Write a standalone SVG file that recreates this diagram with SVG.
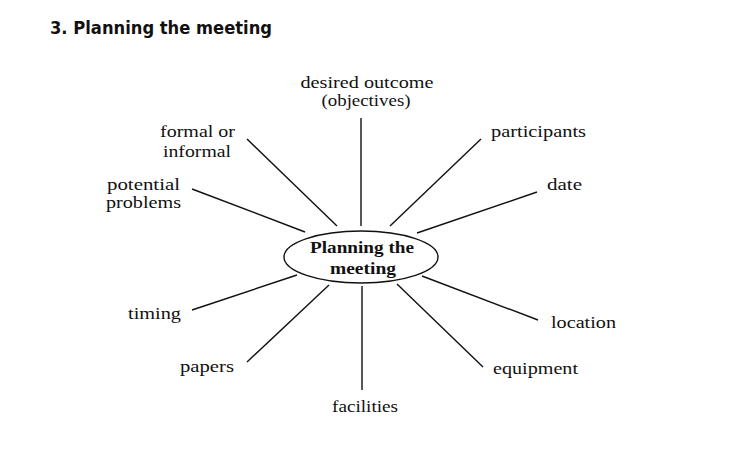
<svg xmlns="http://www.w3.org/2000/svg" width="745" height="474" viewBox="0 0 745 474">
<style>
.t{font-family:"Liberation Serif","Times New Roman",serif;font-size:17px;fill:#111}
.c{font-family:"Liberation Serif","Times New Roman",serif;font-size:17.5px;font-weight:bold;fill:#111}
.h{font-family:"DejaVu Sans","Liberation Sans",sans-serif;font-size:18px;font-weight:bold;fill:#111}
.l{stroke:#111;stroke-width:1.4;fill:none}
</style>
<rect width="745" height="474" fill="#fff"/>
<text class="h" x="50" y="34" textLength="222" lengthAdjust="spacingAndGlyphs">3. Planning the meeting</text>
<g id="connectors">
<line class="l" x1="361" y1="118" x2="361" y2="226"/>
<line class="l" x1="247" y1="139" x2="337" y2="226"/>
<line class="l" x1="192" y1="189" x2="305" y2="232"/>
<line class="l" x1="481" y1="139" x2="390" y2="226"/>
<line class="l" x1="537" y1="192" x2="417" y2="233"/>
<line class="l" x1="192" y1="310" x2="297" y2="275"/>
<line class="l" x1="247" y1="362" x2="329" y2="285"/>
<line class="l" x1="362" y1="286" x2="362" y2="390"/>
<line class="l" x1="538" y1="320" x2="422" y2="276"/>
<line class="l" x1="483" y1="367" x2="397" y2="284"/>
</g>
<g id="center">
<ellipse class="l" cx="361" cy="257" rx="77" ry="26" fill="#fff"/>
<text class="c" x="362" y="253" text-anchor="middle" textLength="104" lengthAdjust="spacingAndGlyphs">Planning the</text>
<text class="c" x="363" y="274" text-anchor="middle" textLength="66" lengthAdjust="spacingAndGlyphs">meeting</text>
</g>
<g id="desired-outcome">
<text class="t" x="367" y="88" text-anchor="middle" textLength="133" lengthAdjust="spacingAndGlyphs">desired outcome</text>
<text class="t" x="366" y="106" text-anchor="middle" textLength="89" lengthAdjust="spacingAndGlyphs">(objectives)</text>
</g>
<g id="formal">
<text class="t" x="160" y="137" textLength="75" lengthAdjust="spacingAndGlyphs">formal or</text>
<text class="t" x="163" y="157" textLength="68" lengthAdjust="spacingAndGlyphs">informal</text>
</g>
<g id="potential-problems">
<text class="t" x="107" y="190" textLength="73" lengthAdjust="spacingAndGlyphs">potential</text>
<text class="t" x="106" y="208" textLength="75" lengthAdjust="spacingAndGlyphs">problems</text>
</g>
<g id="participants"><text class="t" x="491" y="137" textLength="95" lengthAdjust="spacingAndGlyphs">participants</text></g>
<g id="date"><text class="t" x="547" y="190" textLength="35" lengthAdjust="spacingAndGlyphs">date</text></g>
<g id="timing"><text class="t" x="128" y="319" textLength="53" lengthAdjust="spacingAndGlyphs">timing</text></g>
<g id="location"><text class="t" x="551" y="328" textLength="65" lengthAdjust="spacingAndGlyphs">location</text></g>
<g id="papers"><text class="t" x="180" y="372" textLength="54" lengthAdjust="spacingAndGlyphs">papers</text></g>
<g id="equipment"><text class="t" x="493" y="374" textLength="85" lengthAdjust="spacingAndGlyphs">equipment</text></g>
<g id="facilities"><text class="t" x="332" y="412" textLength="66" lengthAdjust="spacingAndGlyphs">facilities</text></g>
</svg>
